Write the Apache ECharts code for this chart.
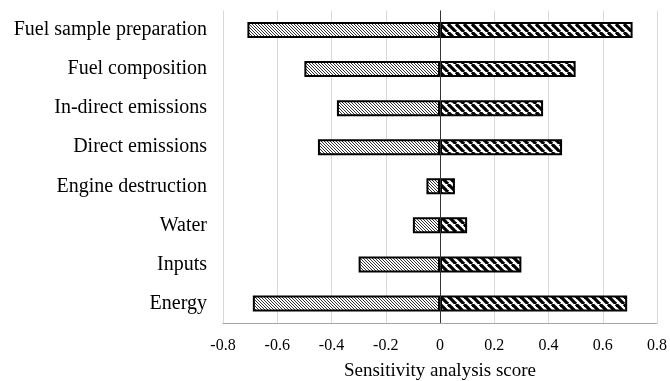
<!DOCTYPE html>
<html>
<head>
<meta charset="utf-8">
<script src="https://cdn.jsdelivr.net/npm/echarts@6/dist/echarts.min.js"></script>
<style>
html,body{margin:0;padding:0;background:#fff;}
#c{width:670px;height:381px;}
</style>
</head>
<body>
<div id="c"></div>
<script>
// Data
const categories = ["Fuel sample preparation","Fuel composition","In-direct emissions","Direct emissions","Engine destruction","Water","Inputs","Energy"];
const negativeValues = [-0.71,-0.50,-0.38,-0.45,-0.05,-0.10,-0.30,-0.69];
const positiveValues = [0.71,0.50,0.38,0.45,0.055,0.10,0.30,0.69];
const xTicks = [-0.8,-0.6,-0.4,-0.2,0,0.2,0.4,0.6,0.8];

function makePattern(size, lineW, spacing, color) {
  const cv = document.createElement('canvas');
  cv.width = size; cv.height = size;
  const ctx = cv.getContext('2d');
  ctx.fillStyle = '#fff';
  ctx.fillRect(0,0,size,size);
  ctx.strokeStyle = color;
  ctx.lineWidth = lineW;
  for (let x = -size*2; x <= size*2; x += spacing) {
    ctx.beginPath();
    ctx.moveTo(x, 0);
    ctx.lineTo(x + size, size);
    ctx.stroke();
  }
  return cv;
}
const finePattern = makePattern(6, 1.0, 3, '#333');
const boldPattern = makePattern(8, 3.2, 8, '#000');

const chart = echarts.init(document.getElementById('c'));
chart.setOption({
  animation: false,
  textStyle: {fontFamily: 'Liberation Serif'},
  grid: {left: 223, right: 13, top: 10.5, bottom: 58, containLabel: false, outerBoundsMode: 'none'},
  xAxis: {
    type: 'value', min: -0.8, max: 0.8, interval: 0.2,
    name: 'Sensitivity analysis score', nameLocation: 'middle', nameGap: 39,
    nameTextStyle: {fontFamily: 'Liberation Serif', fontSize: 19, color: '#000'},
    axisLine: {show: true, lineStyle: {color: '#a6a6a6', width: 1}},
    axisTick: {show: false},
    axisLabel: {fontFamily: 'Liberation Serif', fontSize: 16, color: '#000', margin: 15,
      formatter: v => { const t = xTicks.find(k => Math.abs(k - v) < 1e-9); return String(t !== undefined ? t : v); }},
    splitLine: {show: true, lineStyle: {color: '#d9d9d9', width: 1}}
  },
  yAxis: {
    type: 'category', data: categories, inverse: true,
    axisLine: {show: false}, axisTick: {show: false},
    axisLabel: {fontFamily: 'Liberation Serif', fontSize: 20, color: '#000', margin: 16},
    splitLine: {show: false}
  },
  series: [
    {
      type: 'bar', data: negativeValues, barWidth: 16, barGap: '-100%',
      itemStyle: {color: {image: finePattern, repeat: 'repeat'}, borderColor: '#000', borderWidth: 2},
      markLine: {
        silent: true, symbol: 'none', label: {show: false},
        lineStyle: {color: '#333', type: 'solid', width: 1},
        data: [{xAxis: 0}]
      },
      z: 2
    },
    {
      type: 'bar', data: positiveValues, barWidth: 16, barGap: '-100%',
      itemStyle: {color: {image: boldPattern, repeat: 'repeat'}, borderColor: '#000', borderWidth: 2},
      z: 2
    }
  ]
});
</script>
</body>
</html>
